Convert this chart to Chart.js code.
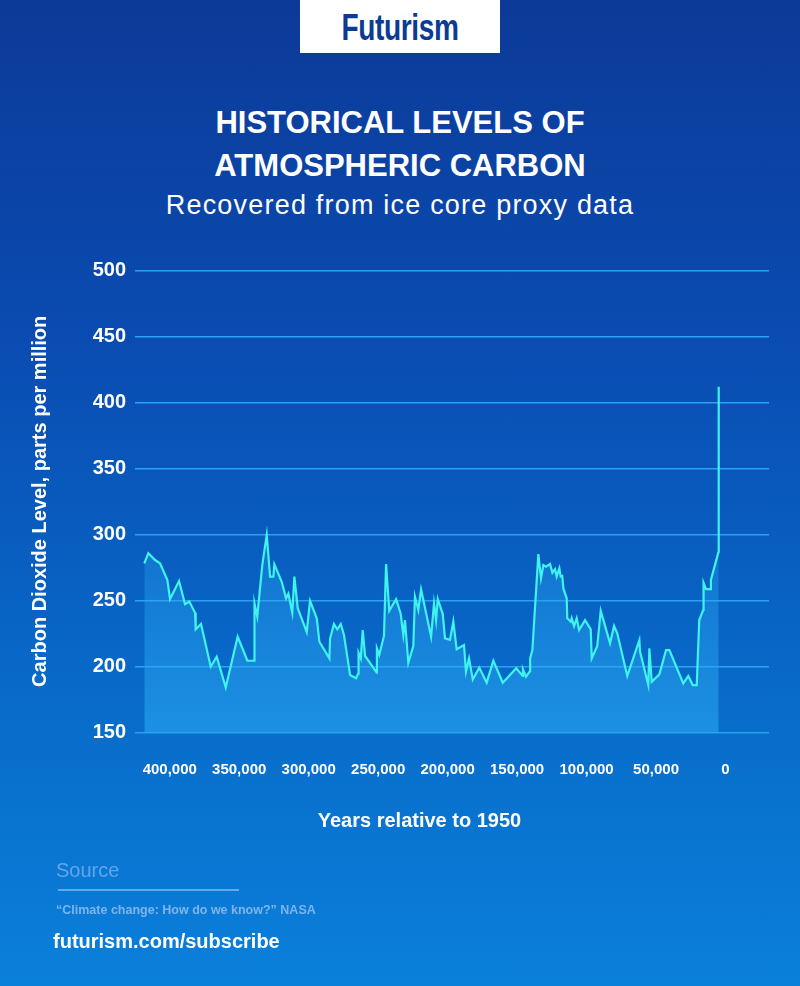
<!DOCTYPE html>
<html>
<head>
<meta charset="utf-8">
<title>Historical Levels of Atmospheric Carbon</title>
<script src="https://cdn.jsdelivr.net/npm/chart.js@4.4.0/dist/chart.umd.min.js"></script>
<style>
  html, body {
    margin: 0;
    padding: 0;
  }
  body {
    width: 800px;
    height: 986px;
    position: relative;
    overflow: hidden;
    font-family: "Liberation Sans", Arial, sans-serif;
    background: linear-gradient(to bottom, #0c3a98 0%, #0a4cb2 35%, #0866c6 65%, #0a80da 100%);
  }
  .txt {
    position: absolute;
    white-space: nowrap;
    margin: 0;
  }
  #logo {
    position: absolute;
    left: 300px;
    top: 0;
    width: 200px;
    height: 53px;
    background: #fff;
  }
  #logo span {
    position: absolute;
    left: 0;
    width: 200px;
    top: 9.5px;
    text-align: center;
    font-size: 36px;
    line-height: 36px;
    font-weight: bold;
    color: #0c3b95;
    transform: scaleX(0.78);
    letter-spacing: -0.5px;
  }
  .title {
    left: 0;
    width: 800px;
    text-align: center;
    color: #fff;
    font-weight: bold;
    font-size: 31px;
    line-height: 31px;
  }
  #subtitle {
    left: 0;
    width: 800px;
    text-align: center;
    color: #fff;
    font-size: 27px;
    line-height: 27px;
    letter-spacing: 1.2px;
    top: 192px;
  }
  #chartBox {
    position: absolute;
    left: 0;
    top: 0;
    width: 800px;
    height: 986px;
  }
  #xTitle {
    left: 0;
    width: 839px;
    text-align: center;
    top: 810px;
    color: #fff;
    font-weight: bold;
    font-size: 20px;
    line-height: 20px;
  }
  #source {
    left: 56px;
    top: 860px;
    font-size: 20px;
    line-height: 20px;
    color: #62a6ea;
  }
  #sourceRule {
    position: absolute;
    left: 58px;
    top: 889px;
    width: 181px;
    height: 2px;
    background: #62a8ee;
  }
  #cite {
    left: 56px;
    top: 904px;
    font-size: 12.5px;
    line-height: 12.5px;
    font-weight: bold;
    color: #7fb5ec;
  }
  #subscribe {
    left: 53px;
    top: 931px;
    font-size: 20px;
    line-height: 20px;
    font-weight: bold;
    color: #fff;
  }
</style>
</head>
<body>

<div id="logo"><span>Futurism</span></div>
<p class="txt title" style="top:106.5px">HISTORICAL LEVELS OF</p>
<p class="txt title" style="top:150px">ATMOSPHERIC CARBON</p>
<p class="txt" id="subtitle">Recovered from ice core proxy data</p>

<div id="chartBox"><canvas id="co2Chart"></canvas></div>

<p class="txt" id="xTitle">Years relative to 1950</p>
<p class="txt" id="source">Source</p>
<div id="sourceRule"></div>
<p class="txt" id="cite">“Climate change: How do we know?” NASA</p>
<p class="txt" id="subscribe">futurism.com/subscribe</p>

<script>
// Ice core CO2 record
// years before 1950
const years = [
  418300, 415400, 410600, 407000, 401700, 399800, 393300, 389000, 385900, 381800,
  381300, 377500, 370500, 366200, 359700, 351100, 344100, 339300, 339000, 337000,
  333400, 330200, 327800, 325400, 324700, 319400, 316300, 314600, 311800, 310300,
  307900, 301400, 299000, 294200, 292300, 285100, 284600, 281800, 279400, 276900,
  274600, 270200, 265900, 264300, 264100, 262500, 261100, 259400, 251000, 250900,
  249200, 245800, 244300, 242000, 237100, 233800, 231900, 230700, 228300, 224700,
  223500, 221100, 219100, 211900, 209800, 208300, 207100, 203500, 201900, 198300,
  195900, 193500, 188200, 186800, 184600, 181900, 177200, 171900, 167100, 160300,
  150600, 146000, 145800, 143600, 140700, 140600, 139000, 134700, 132800, 131100,
  129200, 126300, 124600, 122700, 121500, 119600, 118600, 117500, 116700, 114300,
  113900, 111400, 110700, 109000, 107100, 105400, 101100, 97000, 96300, 92300,
  89800, 83100, 80200, 77900, 70700, 62000, 61500, 55600, 54800, 53100,
  47600, 42800, 40400, 30400, 26800, 23600, 20700, 18900, 16000, 15800,
  14000, 10700, 10500, 5000, 4900
];

// CO2, parts per million
const co2 = [
  278, 285.6, 280.5, 278, 265.4, 251, 264.6, 247, 249, 240.6,
  228, 232, 199.7, 207.3, 184, 222.4, 204.2, 204.2, 247.7, 237.6,
  276.7, 299.5, 268, 268, 277.3, 264, 251.5, 255, 240.6, 268,
  244, 226, 249.5, 236.4, 218.6, 206, 221, 232, 228, 232,
  223.7, 193.4, 191, 194.7, 210.3, 206, 227.5, 207.8, 195.2, 213.6,
  208.6, 223, 277.5, 242, 250.8, 240, 223.7, 235, 202.7, 215.4,
  252.7, 242.7, 258.3, 222.4, 247.7, 235, 250.8, 239.6, 221.2, 220,
  233.8, 212.9, 216.1, 196, 206, 190, 199, 187.6, 204.2, 187.6,
  198.5, 192.7, 197.7, 192.1, 196.4, 206, 212.3, 285, 266.7, 276.7,
  275.5, 277.5, 270.9, 273.5, 268, 274.2, 268, 268.4, 259, 251.5,
  236.4, 233.8, 236.4, 230.5, 236.4, 227.5, 235, 228, 206, 215.4,
  242, 217.4, 230.5, 225, 192.7, 219.8, 211, 185.8, 213.6, 188.3,
  193.9, 212.3, 212.3, 187.1, 192.7, 185.8, 185.8, 235, 242.7, 263.3,
  258.5, 258.5, 265.4, 286.8, 411.8
];

const xTicks = [400000, 350000, 300000, 250000, 200000, 150000, 100000, 50000, 0];
const yTicks = [150, 200, 250, 300, 350, 400, 450, 500];

const fontFamily = '"Liberation Sans", Arial, sans-serif';
const points = years.map((yr, i) => ({ x: yr, y: co2[i] }));

function areaFill(context) {
  const area = context.chart.chartArea;
  if (!area) return 'rgba(40, 160, 240, 0.3)';
  const g = context.chart.ctx.createLinearGradient(0, area.top, 0, area.bottom);
  g.addColorStop(0, 'rgba(40, 150, 235, 0.15)');
  g.addColorStop(0.55, 'rgba(40, 160, 240, 0.3)');
  g.addColorStop(1, 'rgba(45, 175, 245, 0.55)');
  return g;
}

const ctx = document.getElementById('co2Chart').getContext('2d');

new Chart(ctx, {
  type: 'line',
  data: {
    datasets: [
      {
        label: 'CO2',
        data: points,
        borderColor: '#3ff4ec',
        borderWidth: 2.2,
        backgroundColor: areaFill,
        fill: 'start',
        pointRadius: 0,
        tension: 0
      }
    ]
  },
  options: {
    responsive: true,
    maintainAspectRatio: false,
    animation: false,
    layout: {
      padding: { top: 270.3, right: 31, bottom: 193.7, left: 0 }
    },
    plugins: {
      legend: { display: false },
      tooltip: { enabled: false }
    },
    scales: {
      x: {
        type: 'linear',
        reverse: true,
        min: -31300,
        max: 425000,
        afterBuildTicks: (scale) => {
          scale.ticks = xTicks.map((v) => ({ value: v }));
        },
        afterFit: (scale) => {
          scale.height = 60;
        },
        grid: { display: false, drawTicks: false },
        border: { display: false },
        ticks: {
          color: '#ffffff',
          autoSkip: false,
          maxRotation: 0,
          padding: 29,
          font: { family: fontFamily, size: 15, weight: 'bold' },
          callback: (v) => v.toLocaleString('en-US')
        }
      },
      y: {
        min: 150,
        max: 500,
        afterBuildTicks: (scale) => {
          scale.ticks = yTicks.map((v) => ({ value: v }));
        },
        afterFit: (scale) => {
          scale.width = 135;
        },
        grid: { color: '#2aa2f2', lineWidth: 1.5, drawTicks: false },
        border: { display: false },
        ticks: {
          color: '#ffffff',
          padding: 9,
          font: { family: fontFamily, size: 20, weight: 'bold' }
        },
        title: {
          display: true,
          text: 'Carbon Dioxide Level, parts per million',
          color: '#ffffff',
          padding: { top: 28, bottom: 0 },
          font: { family: fontFamily, size: 20, weight: 'bold' }
        }
      }
    }
  }
});
</script>
</body>
</html>
